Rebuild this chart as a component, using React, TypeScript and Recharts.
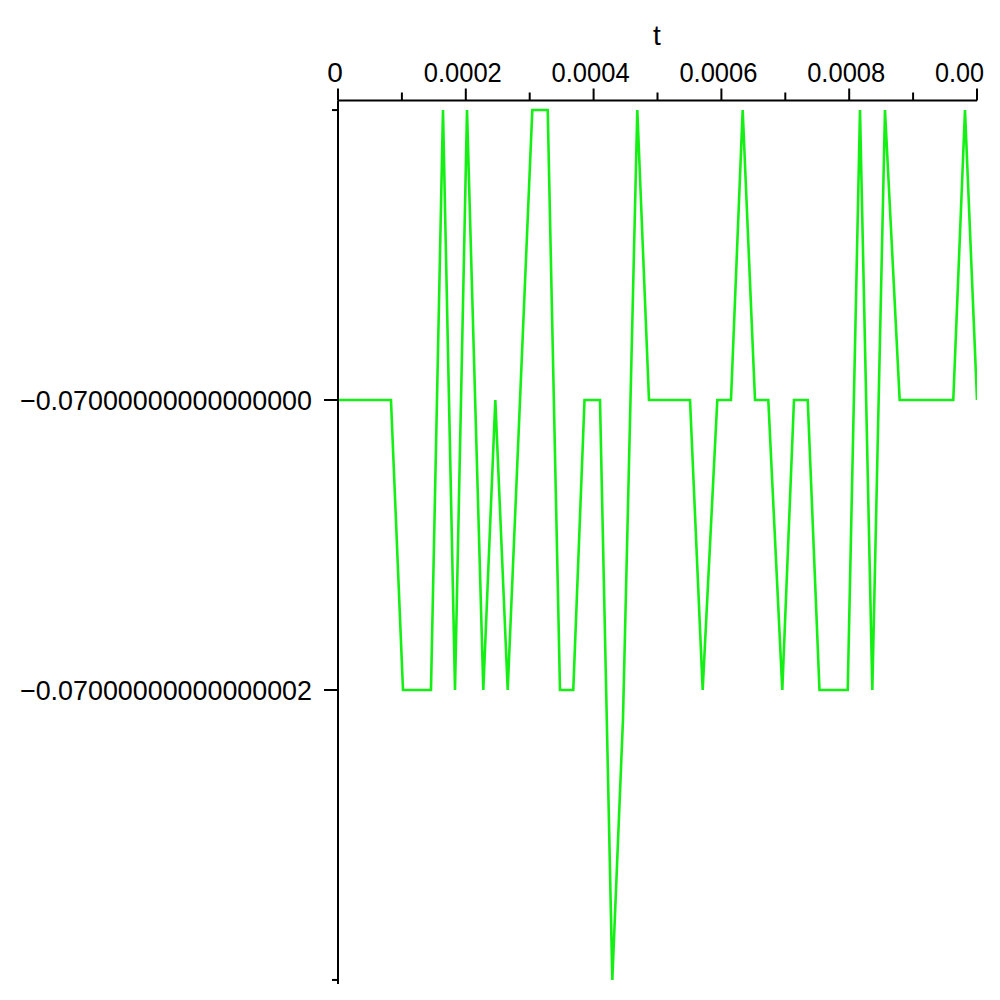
import React from "react";
import { LineChart, Line, XAxis, YAxis } from "recharts";

// t in seconds
const tValues = [
  0, 8.29e-5, 1.017e-4, 1.455e-4, 1.643e-4, 1.831e-4, 2.019e-4, 2.274e-4,
  2.462e-4, 2.656e-4, 3.041e-4, 3.282e-4, 3.474e-4, 3.682e-4, 3.858e-4,
  4.1e-4, 4.293e-4, 4.46e-4, 4.684e-4, 4.867e-4, 5.509e-4, 5.707e-4,
  5.936e-4, 6.15e-4, 6.333e-4, 6.526e-4, 6.734e-4, 6.953e-4, 7.136e-4,
  7.351e-4, 7.535e-4, 7.977e-4, 8.169e-4, 8.362e-4, 8.56e-4, 8.79e-4,
  9.629e-4, 9.812e-4, 1.0e-3,
];

// value offset from -0.07, in units of 1e-17 (below float64 resolution, so stored as offsets)
const levels = [
  0, 0, -2, -2, 2, -2, 2, -2, 0, -2, 2, 2, -2, -2, 0, 0, -4, -2.2, 2, 0, 0,
  -2, 0, 0, 2, 0, 0, -2, 0, 0, -2, -2, 2, -2, 2, 0, 0, 2, 0,
];

const xTicks = [0, 0.0001, 0.0002, 0.0003, 0.0004, 0.0005, 0.0006, 0.0007, 0.0008, 0.0009, 0.001];
const xTickLabels = ["0", "", "0.0002", "", "0.0004", "", "0.0006", "", "0.0008", "", "0.00"];

const yTicks = [2, 0, -2, -4];
const yTickLabels = ["", "\u22120.07000000000000000", "\u22120.07000000000000002", ""];

const data = tValues.map((t, i) => ({ t, v: levels[i] }));

const FONT = "'Liberation Sans', Arial, sans-serif";

const XTick = (props: any) => {
  const { x, y, payload, index } = props;
  const idx = xTicks.indexOf(payload.value) >= 0 ? xTicks.indexOf(payload.value) : index;
  const label = xTickLabels[idx] ?? "";
  const major = idx % 2 === 0;
  const last = idx === xTicks.length - 1;
  return (
    <g>
      <line x1={x} x2={x} y1={y} y2={y - (major ? 12 : 8)} stroke="#000" strokeWidth={2} />
      {label !== "" && (
        <text
          x={last ? x - 42 : x - 3}
          y={82}
          textAnchor={last ? "start" : "middle"}
          fontFamily={FONT}
          fontSize={28}
          fill="#000"
          textLength={label.length === 1 ? undefined : last ? 49 : 78}
          lengthAdjust="spacingAndGlyphs"
        >
          {label}
        </text>
      )}
    </g>
  );
};

const YTick = (props: any) => {
  const { x, y, payload } = props;
  const idx = yTicks.indexOf(payload.value);
  const label = yTickLabels[idx] ?? "";
  const major = label !== "";
  return (
    <g>
      <line x1={x} x2={x - (major ? 14 : 6)} y1={y} y2={y} stroke="#000" strokeWidth={2} />
      {major && (
        <text
          x={312}
          y={y + 10}
          textAnchor="end"
          fontFamily={FONT}
          fontSize={28}
          fill="#000"
          textLength={292}
          lengthAdjust="spacingAndGlyphs"
        >
          {label}
        </text>
      )}
    </g>
  );
};

export default function App() {
  return (
    <div style={{ position: "absolute", left: 0, top: 0, width: 1000, height: 1000, background: "#fff" }}>
      <LineChart
        width={1000}
        height={1000}
        data={data}
        margin={{ top: 40.5, left: 38, right: 23, bottom: 16 }}
      >
        <XAxis
          dataKey="t"
          type="number"
          orientation="top"
          domain={[0, 0.001]}
          ticks={xTicks}
          height={60}
          allowDataOverflow
          tickSize={0}
          tickMargin={0}
          tickLine={false}
          tick={<XTick />}
          axisLine={{ stroke: "#000", strokeWidth: 2 }}
          interval={0}
        />
        <YAxis
          type="number"
          domain={[-4.028, 2.066]}
          ticks={yTicks}
          width={300}
          allowDataOverflow
          tickSize={0}
          tickMargin={0}
          tickLine={false}
          tick={<YTick />}
          axisLine={{ stroke: "#000", strokeWidth: 2 }}
          interval={0}
        />
        <Line
          type="linear"
          dataKey="v"
          stroke="#14f014"
          strokeWidth={2.6}
          dot={false}
          isAnimationActive={false}
        />
        <text x={657} y={45} textAnchor="middle" fontFamily={FONT} fontSize={28} fill="#000">
          t
        </text>
      </LineChart>
    </div>
  );
}
